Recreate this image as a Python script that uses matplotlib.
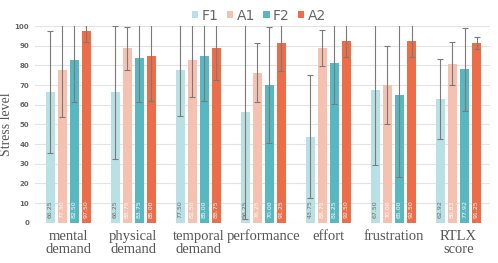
import matplotlib
matplotlib.use("Agg")
import matplotlib.pyplot as plt
import numpy as np

categories = ["mental\ndemand", "physical\ndemand", "temporal\ndemand", "performance",
              "effort", "frustration", "RTLX\nscore"]
series = ["F1", "A1", "F2", "A2"]
F1 = [66.25, 66.25, 77.50, 56.25, 43.75, 67.50, 62.92]
A1 = [77.50, 88.75, 82.50, 76.25, 88.75, 70.00, 80.83]
F2 = [82.50, 83.75, 85.00, 70.00, 81.25, 65.00, 77.92]
A2 = [97.50, 85.00, 88.75, 91.25, 92.50, 92.50, 91.25]
F1_err = [31.0, 34.0, 23.1, 54.5, 31.4, 38.2, 20.5]
A1_err = [23.6, 11.0, 18.4, 15.0, 9.0, 20.0, 11.0]
F2_err = [21.3, 22.5, 23.0, 29.6, 21.0, 41.6, 21.3]
A2_err = [5.5, 23.3, 16.2, 14.1, 8.4, 8.4, 3.0]
colors = ["#b9e1e5", "#f5c1b1", "#57b8c2", "#ec6d48"]
yticks = list(range(0, 101, 10))

values = [F1, A1, F2, A2]
errs = [F1_err, A1_err, F2_err, A2_err]
label_colors = ["#6a6a6a", "#ffffff", "#ffffff", "#ffffff"]

fig = plt.figure(figsize=(4.98, 2.63), dpi=100)
ax = fig.add_axes([0.07, 0.153, 0.914, 0.748])

x = np.arange(len(categories))
step = 0.185
bw = 0.14
for i, (vals, er, c, lc) in enumerate(zip(values, errs, colors, label_colors)):
    pos = x + (i - 1.5) * step
    ax.bar(pos, vals, bw, color=c, label=series[i], zorder=2)
    ax.errorbar(pos, vals, yerr=er, fmt="none", ecolor="#7a7a7a", elinewidth=0.8,
                capsize=2, capthick=0.8, zorder=3)
    for p, v in zip(pos, vals):
        ax.text(p, 2.3, f"{v:.2f}", rotation=90, ha="center", va="bottom",
                fontsize=4.5, color=lc, zorder=4)

ax.set_ylim(0, 100)
ax.set_xlim(-0.515, len(categories) - 0.515)
ax.set_yticks(yticks)
ax.tick_params(axis="y", labelsize=5, colors="#666666", length=0, pad=4)
ax.set_yticklabels([str(t) for t in yticks], fontweight="bold")
ax.set_xticks(x)
ax.set_xticklabels(categories, family="Liberation Serif", fontsize=10.5,
                   color="#555555", linespacing=1.05)
ax.tick_params(axis="x", length=0, pad=5)
for s in ax.spines.values():
    s.set_visible(False)
ax.grid(axis="y", color="#e3e3e3", linewidth=0.8, zorder=0)
ax.set_axisbelow(True)
ax.set_ylabel("Stress level", family="Liberation Serif", fontsize=10, color="#555555")
ax.yaxis.set_label_coords(-0.047, 0.5)

leg = fig.legend(loc="upper center", bbox_to_anchor=(0.52, 1.015), ncol=4, frameon=False,
                 fontsize=10, handlelength=0.45, handleheight=0.45, handletextpad=0.25,
                 columnspacing=0.6, labelcolor="#666666")

fig.savefig("out.png", dpi=100)
